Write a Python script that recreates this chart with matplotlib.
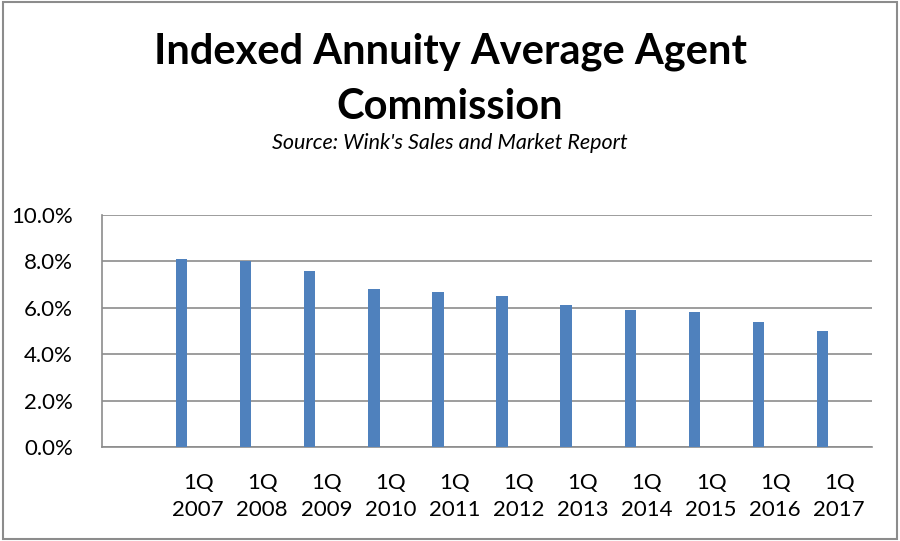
import matplotlib.pyplot as plt
from matplotlib.patches import Rectangle
from matplotlib.ticker import FuncFormatter

# Data.
quarters = ["1Q\n2007", "1Q\n2008", "1Q\n2009", "1Q\n2010", "1Q\n2011", "1Q\n2012",
            "1Q\n2013", "1Q\n2014", "1Q\n2015", "1Q\n2016", "1Q\n2017"]
commission = [8.1, 8.0, 7.6, 6.8, 6.7, 6.5, 6.1, 5.9, 5.8, 5.4, 5.0]

plt.rcParams['font.family'] = ['Lato', 'DejaVu Sans']

fig = plt.figure(figsize=(9, 5.41), dpi=100)
ax = fig.add_axes([0.1133, 0.1738, 0.8556, 0.4288])

x = list(range(len(quarters)))
ax.bar(x, commission, width=0.18, color="#4F81BD", zorder=3)

ax.set_xlim(-1.24, 10.77)
ax.set_ylim(0, 10)
ax.set_yticks([0, 2, 4, 6, 8, 10])
ax.yaxis.set_major_formatter(FuncFormatter(lambda v, p: f"{v:.1f}%"))
ax.set_xticks([i + 0.26 for i in x])
ax.set_xticklabels(quarters, linespacing=1.4)

ax.grid(axis="y", color="#8c8c8c", linewidth=1.2, zorder=0)
for side in ["top", "right"]:
    ax.spines[side].set_visible(False)
for side in ["left", "bottom"]:
    ax.spines[side].set_color("#8c8c8c")
    ax.spines[side].set_linewidth(1.2)
ax.tick_params(axis="both", length=0, labelsize=16)
ax.tick_params(axis="y", pad=21)
ax.tick_params(axis="x", pad=19)

# Title and subtitle.
fig.text(0.5, 0.905, "Indexed Annuity Average Agent", ha="center", va="center",
         fontsize=30, fontweight="bold")
fig.text(0.5, 0.802, "Commission", ha="center", va="center",
         fontsize=30, fontweight="bold")
fig.text(0.5, 0.735, "Source: Wink's Sales and Market Report", ha="center",
         va="center", fontsize=15.5, style="italic")

# Chart-area border.
fig.patches.append(Rectangle((0.003, 0.004), 0.994, 0.992, transform=fig.transFigure,
                             fill=False, edgecolor="#8c8c8c", linewidth=1.5))

plt.savefig("out.png")
plt.close()
